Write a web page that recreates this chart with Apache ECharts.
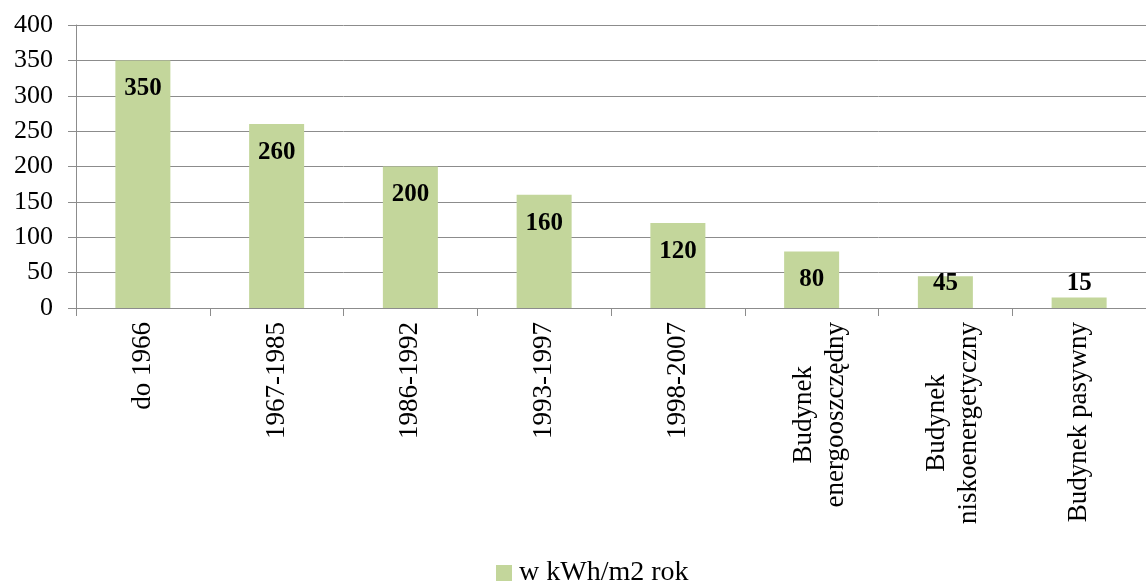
<!DOCTYPE html>
<html>
<head>
<meta charset="utf-8">
<script src="https://cdn.jsdelivr.net/npm/echarts@6/dist/echarts.min.js"></script>
<style>
  html, body { margin: 0; padding: 0; background: #fff; }
  #chart { width: 1146px; height: 582px; }
</style>
</head>
<body>
<div id="chart"></div>
<script>
// dane z wykresu
const categories = ['do 1966', '1967-1985', '1986-1992', '1993-1997', '1998-2007',
  'Budynek\nenergooszczędny', 'Budynek\nniskoenergetyczny', 'Budynek pasywny']
const values = [350, 260, 200, 160, 120, 80, 45, 15]
const seriesName = 'w kWh/m2 rok'
const yTicks = [0, 50, 100, 150, 200, 250, 300, 350, 400]

const FONT = '"Liberation Serif", "Times New Roman", serif'
const GRID_COLOR = '#8c8c8c'

let chart = echarts.init(document.getElementById('chart'))

let barData = values.map(v => {
  // niskie słupki - etykieta przesunięta w górę (jak w Excelu)
  if (v < 30) return { value: v, label: { position: 'top', distance: 1 } }
  if (v < 60) return { value: v, label: { position: 'insideBottom', distance: 12 } }
  return v
})

// etykiety dwuwierszowe: wiersze wyśrodkowane, blok lekko przesunięty w prawo
function xLabel(v) {
  let lines = v.split('\n').map(s => '{c|' + s + '}')
  if (lines.length > 1) lines.unshift('{s| }')
  return lines.join('\n')
}

let option = {
  animation: false,
  grid: { left: 76, right: 0, top: 25, bottom: 274, containLabel: false },
  legend: {
    top: 553,
    left: 491,
    itemWidth: 16,
    itemHeight: 16,
    itemGap: 6,
    icon: 'rect',
    textStyle: { fontFamily: FONT, fontSize: 28, lineHeight: 30, color: '#000', padding: [0, 0, 0, 2] },
    data: [seriesName]
  },
  xAxis: {
    type: 'category',
    data: categories,
    axisLine: { lineStyle: { color: GRID_COLOR, width: 1 } },
    axisTick: { show: true, length: 8, alignWithLabel: false, lineStyle: { color: GRID_COLOR } },
    axisLabel: {
      rotate: 90,
      interval: 0,
      margin: 14,
      color: '#000',
      fontFamily: FONT,
      fontSize: 27,
      lineHeight: 32,
      formatter: xLabel,
      rich: {
        c: { fontFamily: FONT, fontSize: 27, lineHeight: 32, align: 'center', color: '#000' },
        s: { fontSize: 1, lineHeight: 16 }
      }
    }
  },
  yAxis: {
    type: 'value',
    min: yTicks[0],
    max: yTicks[yTicks.length - 1],
    interval: 50,
    axisLine: { show: true, lineStyle: { color: GRID_COLOR, width: 1 } },
    axisTick: { show: true, length: 8, lineStyle: { color: GRID_COLOR } },
    splitLine: { show: true, lineStyle: { color: GRID_COLOR, width: 1 } },
    axisLabel: { color: '#000', fontFamily: FONT, fontSize: 26, margin: 23 }
  },
  series: [
    {
      name: seriesName,
      type: 'bar',
      data: barData,
      barWidth: 55,
      itemStyle: { color: '#c3d69b' },
      label: {
        show: true,
        position: 'insideTop',
        distance: 16,
        color: '#000',
        fontFamily: FONT,
        fontSize: 25,
        fontWeight: 'bold'
      }
    }
  ]
}

chart.setOption(option)
</script>
</body>
</html>
